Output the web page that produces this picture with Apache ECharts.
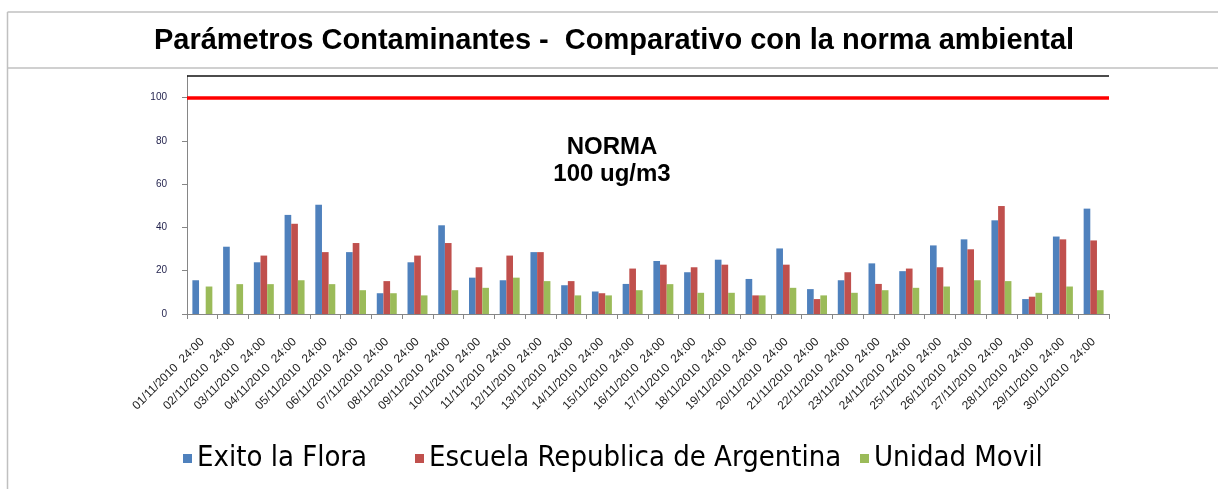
<!DOCTYPE html>
<html>
<head>
<meta charset="utf-8">
<script src="https://cdn.jsdelivr.net/npm/echarts@6/dist/echarts.min.js"></script>
<style>
  html, body { margin: 0; padding: 0; background: #fff; }
  #chart { width: 1218px; height: 489px; }
</style>
</head>
<body>
<div id="chart"></div>
<script>
  // categorias (dias de noviembre 2010)
  const categories = [
    "01/11/2010  24:00", "02/11/2010  24:00", "03/11/2010  24:00", "04/11/2010  24:00",
    "05/11/2010  24:00", "06/11/2010  24:00", "07/11/2010  24:00", "08/11/2010  24:00",
    "09/11/2010  24:00", "10/11/2010  24:00", "11/11/2010  24:00", "12/11/2010  24:00",
    "13/11/2010  24:00", "14/11/2010  24:00", "15/11/2010  24:00", "16/11/2010  24:00",
    "17/11/2010  24:00", "18/11/2010  24:00", "19/11/2010  24:00", "20/11/2010  24:00",
    "21/11/2010  24:00", "22/11/2010  24:00", "23/11/2010  24:00", "24/11/2010  24:00",
    "25/11/2010  24:00", "26/11/2010  24:00", "27/11/2010  24:00", "28/11/2010  24:00",
    "29/11/2010  24:00", "30/11/2010  24:00"
  ];
  const exitoLaFlora = [
    15.6, 31.1, 23.9, 45.8, 50.5, 28.6, 9.6, 23.9, 41.0, 16.8,
    15.6, 28.6, 13.3, 10.4, 13.9, 24.5, 19.3, 25.1, 16.2, 30.3,
    11.5, 15.6, 23.4, 19.8, 31.7, 34.5, 43.3, 6.9, 35.8, 48.7
  ];
  const escuelaArgentina = [
    null, null, 27.0, 41.7, 28.6, 32.8, 15.2, 27.0, 32.8, 21.6,
    27.0, 28.6, 15.2, 9.6, 21.0, 22.8, 21.6, 22.8, 8.6, 22.8,
    6.9, 19.3, 13.9, 21.0, 21.6, 29.9, 49.9, 8.0, 34.5, 34.0
  ];
  const unidadMovil = [
    12.7, 13.8, 13.8, 15.6, 13.8, 11.0, 9.6, 8.6, 11.0, 12.1,
    16.8, 15.2, 8.6, 8.6, 11.0, 13.8, 9.8, 9.8, 8.6, 12.1,
    8.6, 9.8, 11.0, 12.1, 12.7, 15.6, 15.2, 9.8, 12.7, 11.0
  ];
  const norma = 100;
  const yMax = 110;

  const seriesNames = ["Exito la Flora", "Escuela Republica de Argentina", "Unidad Movil"];
  const colors = ["#4F81BD", "#C0504D", "#9BBB59"];
  const legendLeft = [183, 415, 860];

  const chart = echarts.init(document.getElementById("chart"));

  const frameLine = { stroke: "#c0c0c0", lineWidth: 1.5 };

  const option = {
    animation: false,
    color: colors,
    grid: { left: 187, right: 109, top: 76, bottom: 175 },
    legend: seriesNames.map((name, i) => ({
      data: [name],
      left: legendLeft[i],
      top: 444,
      padding: 0,
      icon: "rect",
      itemWidth: 9,
      itemHeight: 9,
      itemGap: 0,
      textStyle: {
        fontFamily: "DejaVu Sans Condensed, sans-serif",
        fontSize: 29,
        color: "#000"
      }
    })),
    xAxis: {
      type: "category",
      data: categories,
      axisLine: { lineStyle: { color: "#868686", width: 1 } },
      axisTick: { show: true, length: 5, lineStyle: { color: "#868686" } },
      axisLabel: {
        rotate: 45,
        interval: 0,
        margin: 26,
        fontSize: 12,
        fontFamily: "Liberation Sans, Arial, sans-serif",
        color: "#222"
      }
    },
    yAxis: {
      type: "value",
      min: 0,
      max: yMax,
      interval: 20,
      axisLine: { show: true, lineStyle: { color: "#868686", width: 1 } },
      axisTick: { show: true, length: 5, lineStyle: { color: "#868686" } },
      splitLine: { show: false },
      axisLabel: {
        showMaxLabel: false,
        margin: 20,
        fontSize: 10,
        fontFamily: "Liberation Sans, Arial, sans-serif",
        color: "#1f1f4a"
      }
    },
    series: [
      {
        name: seriesNames[0],
        type: "bar",
        data: exitoLaFlora,
        barGap: "0%",
        barCategoryGap: "35%",
        markLine: {
          silent: true,
          symbol: "none",
          label: { show: false },
          data: [
            { yAxis: yMax, lineStyle: { color: "#111", width: 1.5, type: "solid" } },
            { yAxis: norma, lineStyle: { color: "#FF0000", width: 3.5, type: "solid" } }
          ]
        }
      },
      { name: seriesNames[1], type: "bar", data: escuelaArgentina, barGap: "0%", barCategoryGap: "35%" },
      { name: seriesNames[2], type: "bar", data: unidadMovil, barGap: "0%", barCategoryGap: "35%" }
    ],
    graphic: [
      { type: "line", shape: { x1: 7.5, y1: 12, x2: 1218, y2: 12 }, style: frameLine },
      { type: "line", shape: { x1: 7.5, y1: 68, x2: 1218, y2: 68 }, style: frameLine },
      { type: "line", shape: { x1: 7.5, y1: 12, x2: 7.5, y2: 489 }, style: frameLine },
      {
        type: "text",
        x: 614,
        y: 41,
        style: {
          text: "Parámetros Contaminantes -  Comparativo con la norma ambiental",
          font: "bold 29px 'Liberation Sans', Arial, sans-serif",
          fill: "#000",
          textAlign: "center",
          textVerticalAlign: "middle"
        }
      },
      {
        type: "text",
        x: 612,
        y: 161,
        style: {
          text: "NORMA\n100 ug/m3",
          font: "bold 24px 'Liberation Sans', Arial, sans-serif",
          lineHeight: 27,
          fill: "#000",
          textAlign: "center",
          textVerticalAlign: "middle"
        }
      }
    ]
  };

  chart.setOption(option);
  window.addEventListener("resize", () => {
    chart.resize();
  });
</script>
</body>
</html>
